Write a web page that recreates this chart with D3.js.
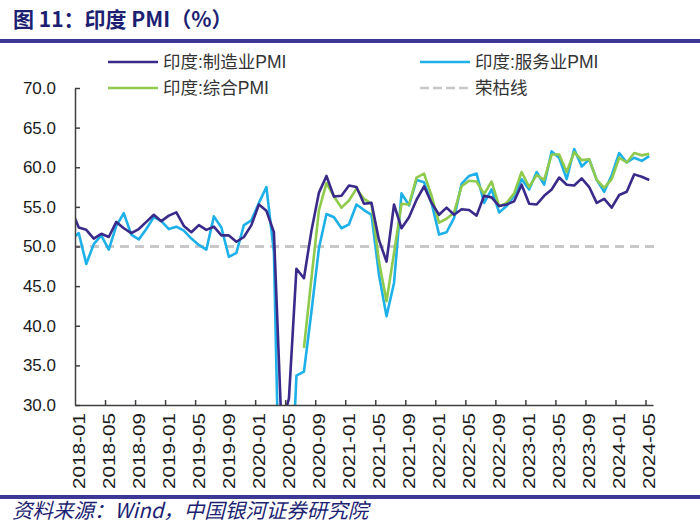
<!DOCTYPE html>
<html>
<head>
<meta charset="utf-8">
<script src="https://cdn.jsdelivr.net/npm/d3@7"></script>
<style>
  html, body { margin: 0; padding: 0; background: #fff; }
  svg { display: block; }
</style>
</head>
<body>
<svg id="chart" width="700" height="530"></svg>
<script>
// ---- DATA ----
// months from 2017-12 (lead-in point, clipped by plot area) to 2024-05
const months = d3.timeMonth.range(new Date(2017, 11, 1), new Date(2024, 5, 1)).map(d3.timeFormat("%Y-%m"));
const tickLabels = ["2018-01","2018-05","2018-09","2019-01","2019-05","2019-09","2020-01","2020-05","2020-09","2021-01","2021-05","2021-09","2022-01","2022-05","2022-09","2023-01","2023-05","2023-09","2024-01","2024-05"];

const manufacturing = [54.7,
  52.4, 52.1, 51.0, 51.6, 51.2, 53.1, 52.3, 51.7, 52.2, 53.1, 54.0, 53.2,
  53.9, 54.3, 52.6, 51.8, 52.7, 52.1, 52.5, 51.4, 51.4, 50.6, 51.2, 52.7,
  55.3, 54.5, 51.8, 27.4, 30.8, 47.2, 46.0, 52.0, 56.8, 58.9, 56.3, 56.4,
  57.7, 57.5, 55.4, 55.5, 50.8, 48.1, 55.3, 52.3, 53.7, 55.9, 57.6, 55.5,
  54.0, 54.9, 54.0, 54.7, 54.6, 53.9, 56.4, 56.2, 55.1, 55.3, 55.7, 57.8,
  55.4, 55.3, 56.4, 57.2, 58.7, 57.8, 57.7, 58.6, 57.5, 55.5, 56.0, 54.9,
  56.5, 56.9, 59.1, 58.8, 58.4];

const services = [50.9,
  51.7, 47.8, 50.3, 51.4, 49.6, 52.6, 54.2, 51.5, 50.9, 52.2, 53.7, 53.2,
  52.2, 52.5, 52.0, 51.0, 50.2, 49.6, 53.8, 52.4, 48.7, 49.2, 52.7, 53.3,
  55.5, 57.5, 49.3, 5.4, 12.6, 33.7, 34.2, 41.8, 49.8, 54.1, 53.7, 52.3,
  52.8, 55.3, 54.6, 54.0, 46.4, 41.2, 45.4, 56.7, 55.2, 58.4, 58.1, 55.5,
  51.5, 51.8, 53.6, 57.9, 58.9, 59.2, 55.5, 57.2, 54.3, 55.1, 56.4, 58.5,
  57.2, 59.4, 57.8, 62.0, 61.2, 58.5, 62.3, 60.1, 61.0, 58.4, 56.9, 59.0,
  61.8, 60.6, 61.2, 60.8, 61.4];

const composite = [null,
  null, null, null, null, null, null, null, null, null, null, null, null,
  null, null, null, null, null, null, null, null, null, null, null, null,
  null, null, null, null, null, null, 37.2, 46.0, 54.6, 58.0, 56.3, 54.9,
  55.8, 57.3, 56.0, 55.4, 48.1, 43.1, 49.2, 55.4, 55.3, 58.7, 59.2, 56.4,
  53.0, 53.5, 54.3, 57.6, 58.3, 58.2, 56.6, 58.2, 55.1, 55.5, 56.7, 59.4,
  57.5, 59.0, 58.4, 61.6, 61.6, 59.4, 61.9, 60.9, 61.0, 58.4, 57.4, 58.5,
  61.2, 60.6, 61.8, 61.5, 61.7];

const boomBust = 50;
const yTicks = [30, 35, 40, 45, 50, 55, 60, 65, 70];

const seriesNames = ["印度:制造业PMI", "印度:服务业PMI", "印度:综合PMI", "荣枯线"];
const colors = ["#3a2a8a", "#1eb0e8", "#8fca4c", "#c8c8c8"];

// ---- LAYOUT ----
const svg = d3.select("#chart");
const L = 75, R = 653, T = 88, B = 405;

const x = d3.scaleLinear().domain([1, months.length]).range([L, R]); // category i centre at i+0.5
const y = d3.scaleLinear().domain([30, 70]).range([B, T]);

// title
svg.append("text").attr("x", 13).attr("y", 27)
  .attr("font-family", "'Noto Sans CJK SC', sans-serif").attr("font-weight", 700)
  .attr("font-size", 21).attr("fill", "#1d1f73")
  .text("图 11：印度 PMI（%）");
svg.append("rect").attr("x", 0).attr("y", 39).attr("width", 700).attr("height", 4).attr("fill", "#3d3796");

// footer
svg.append("rect").attr("x", 0).attr("y", 495).attr("width", 700).attr("height", 4).attr("fill", "#3d3796");
svg.append("text").attr("x", 12).attr("y", 518)
  .attr("font-family", "'Noto Sans CJK SC', sans-serif").attr("font-style", "italic")
  .attr("font-size", 20.5).attr("fill", "#1d1f73")
  .text("资料来源：Wind，中国银河证券研究院");

// clip
svg.append("clipPath").attr("id", "plotclip").append("rect")
  .attr("x", L).attr("y", T - 5).attr("width", R - L + 5).attr("height", B - T + 5);

// boom-bust line
svg.append("line")
  .attr("x1", L).attr("x2", R + 2).attr("y1", y(boomBust)).attr("y2", y(boomBust))
  .attr("stroke", colors[3]).attr("stroke-width", 3).attr("stroke-dasharray", "9,6");

// lines
const line = d3.line()
  .defined(d => d.v != null)
  .x(d => x(d.i + 0.5))
  .y(d => y(d.v));

const toPts = arr => arr.map((v, i) => ({ i, v }));
const g = svg.append("g").attr("clip-path", "url(#plotclip)");
[[services, colors[1]], [composite, colors[2]], [manufacturing, colors[0]]].forEach(([arr, c]) => {
  g.append("path").datum(toPts(arr)).attr("d", line)
    .attr("fill", "none").attr("stroke", c).attr("stroke-width", 2.6)
    .attr("stroke-linejoin", "round");
});

// y axis
const yAxis = d3.axisLeft(y).tickValues(yTicks).tickFormat(d3.format(".1f"))
  .tickSize(-5).tickSizeOuter(0).tickPadding(19);
const ya = svg.append("g").attr("transform", `translate(${L},0)`).call(yAxis);
ya.select(".domain").attr("stroke", "#404040").attr("stroke-width", 1.5);
ya.selectAll(".tick line").attr("stroke", "#404040").attr("stroke-width", 1.5);
ya.selectAll(".tick text").attr("font-family", "'Liberation Sans', Arial, sans-serif")
  .attr("font-size", 17).attr("fill", "#1a1a1a");

// x axis: ticks at category boundaries every 4 months
const tickIdx = tickLabels.map(t => months.indexOf(t)).filter(i => i > 1);
const xAxis = d3.axisBottom(x).tickValues(tickIdx).tickFormat("").tickSize(-5).tickSizeOuter(0);
const xa = svg.append("g").attr("transform", `translate(0,${B})`).call(xAxis);
xa.select(".domain").attr("stroke", "#404040").attr("stroke-width", 1.5);
xa.selectAll(".tick line").attr("stroke", "#404040").attr("stroke-width", 1.5);

svg.append("g").selectAll("text").data(tickLabels).join("text")
  .attr("transform", d => `translate(${x(months.indexOf(d) + 0.5)},${B + 8}) rotate(-90) scale(1.22,1)`)
  .attr("text-anchor", "end").attr("dy", "0.36em")
  .attr("font-family", "'Liberation Sans', Arial, sans-serif").attr("font-size", 17)
  .attr("fill", "#1a1a1a")
  .text(d => d);

// legend
const legendPos = [[108, 62], [420, 62], [108, 88], [420, 88]];
const lg = svg.append("g");
seriesNames.forEach((name, k) => {
  const [lx, ly] = legendPos[k];
  lg.append("line").attr("x1", lx).attr("x2", lx + 50).attr("y1", ly).attr("y2", ly)
    .attr("stroke", colors[k]).attr("stroke-width", 2.6)
    .attr("stroke-dasharray", k === 3 ? "9,4" : null);
  lg.append("text").attr("x", lx + 55).attr("y", ly).attr("dy", "0.35em")
    .attr("font-family", "'Liberation Sans', 'Noto Sans CJK SC', sans-serif").attr("font-size", 17.5)
    .attr("fill", "#333").text(name);
});
</script>
</body>
</html>
